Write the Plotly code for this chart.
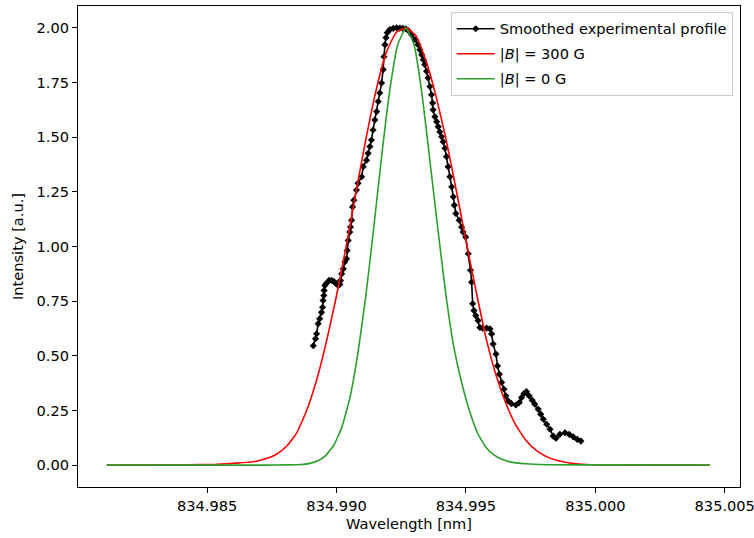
import plotly.graph_objects as go

# ---------------- data ----------------
exp_wl = [
    834.98910, 834.98919, 834.98923, 834.98929, 834.98935, 834.98942, 834.98946, 834.98948,
    834.98951, 834.98952, 834.98955, 834.98961, 834.98971, 834.98981, 834.98990, 834.98997,
    834.99006, 834.99013, 834.99015, 834.99020, 834.99026, 834.99032, 834.99039, 834.99041,
    834.99045, 834.99051, 834.99054, 834.99058, 834.99062, 834.99067, 834.99077, 834.99083,
    834.99097, 834.99103, 834.99116, 834.99122, 834.99129, 834.99135, 834.99141, 834.99148,
    834.99155, 834.99161, 834.99167, 834.99174, 834.99180, 834.99183, 834.99187, 834.99191,
    834.99196, 834.99206, 834.99219, 834.99232, 834.99245, 834.99257, 834.99268, 834.99277,
    834.99290, 834.99303, 834.99315, 834.99322, 834.99329, 834.99335, 834.99341, 834.99348,
    834.99354, 834.99361, 834.99367, 834.99371, 834.99373, 834.99380, 834.99387, 834.99393,
    834.99399, 834.99406, 834.99412, 834.99419, 834.99425, 834.99431, 834.99438, 834.99445,
    834.99451, 834.99455, 834.99461, 834.99474, 834.99483, 834.99489, 834.99499, 834.99509,
    834.99518, 834.99522, 834.99526, 834.99531, 834.99538, 834.99547, 834.99554, 834.99564,
    834.99580, 834.99593, 834.99599, 834.99605, 834.99616, 834.99622, 834.99629, 834.99638,
    834.99647, 834.99654, 834.99663, 834.99676, 834.99693, 834.99706, 834.99715, 834.99724,
    834.99734, 834.99744, 834.99756, 834.99766, 834.99779, 834.99789, 834.99799, 834.99812,
    834.99825, 834.99837, 834.99848, 834.99863, 834.99883, 834.99899, 834.99915, 834.99930,
    834.99944,
]
exp_int = [
    0.546, 0.578, 0.601, 0.647, 0.670, 0.699, 0.722, 0.753,
    0.776, 0.799, 0.822, 0.832, 0.845, 0.845, 0.840, 0.832,
    0.822, 0.826, 0.845, 0.875, 0.898, 0.929, 0.944, 0.982,
    1.028, 1.066, 1.089, 1.120, 1.181, 1.212, 1.258, 1.289,
    1.319, 1.365, 1.395, 1.426, 1.457, 1.487, 1.533, 1.579,
    1.617, 1.663, 1.702, 1.748, 1.809, 1.868, 1.923, 1.955,
    1.978, 1.992, 1.998, 2.000, 1.999, 1.998, 1.995, 1.988,
    1.969, 1.946, 1.923, 1.900, 1.877, 1.854, 1.832, 1.801,
    1.771, 1.732, 1.694, 1.656, 1.625, 1.594, 1.571, 1.548,
    1.525, 1.502, 1.479, 1.449, 1.411, 1.365, 1.319, 1.273,
    1.227, 1.189, 1.151, 1.120, 1.089, 1.066, 1.043, 0.967,
    0.891, 0.837, 0.738, 0.707, 0.684, 0.661, 0.630, 0.626,
    0.627, 0.623, 0.600, 0.554, 0.508, 0.454, 0.416, 0.378,
    0.347, 0.317, 0.294, 0.281, 0.275, 0.286, 0.309, 0.327,
    0.336, 0.317, 0.297, 0.279, 0.256, 0.233, 0.210, 0.187,
    0.164, 0.133, 0.123, 0.141, 0.148, 0.141, 0.129, 0.118,
    0.110,
]

b300_wl = [
    834.98112, 834.98420, 834.98536, 834.98613, 834.98690, 834.98729, 834.98768, 834.98806,
    834.98845, 834.98883, 834.98922, 834.98961, 834.98999, 834.99038, 834.99077, 834.99115,
    834.99154, 834.99193, 834.99231, 834.99270, 834.99309, 834.99347, 834.99386, 834.99425,
    834.99463, 834.99502, 834.99541, 834.99579, 834.99618, 834.99657, 834.99695, 834.99734,
    834.99773, 834.99811, 834.99850, 834.99908, 834.99966, 835.00043, 835.00443,
]
b300_int = [
    0.000, 0.002, 0.004, 0.009, 0.018, 0.030, 0.050, 0.085,
    0.145, 0.245, 0.385, 0.565, 0.770, 1.005, 1.260, 1.500,
    1.720, 1.890, 1.980, 2.000, 1.960, 1.845, 1.680, 1.480,
    1.255, 1.015, 0.785, 0.575, 0.405, 0.275, 0.178, 0.110,
    0.066, 0.039, 0.022, 0.009, 0.003, 0.001, 0.000,
]

b0_wl = [
    834.98112, 834.98727, 834.98804, 834.98866, 834.98897, 834.98928, 834.98959, 834.98990,
    834.99021, 834.99052, 834.99082, 834.99113, 834.99144, 834.99175, 834.99206, 834.99237,
    834.99268, 834.99299, 834.99330, 834.99361, 834.99392, 834.99423, 834.99454, 834.99485,
    834.99516, 834.99547, 834.99577, 834.99608, 834.99639, 834.99670, 834.99732, 834.99809,
    835.00041, 835.00443,
]
b0_int = [
    0.000, 0.000, 0.001, 0.003, 0.008, 0.020, 0.045, 0.092,
    0.175, 0.310, 0.508, 0.772, 1.088, 1.420, 1.718, 1.925,
    2.000, 1.925, 1.700, 1.390, 1.075, 0.775, 0.535, 0.370,
    0.240, 0.142, 0.082, 0.047, 0.027, 0.015, 0.006, 0.002,
    0.001, 0.000,
]

x_ticks = [834.985, 834.990, 834.995, 835.000, 835.005]
y_ticks = [0.0, 0.25, 0.5, 0.75, 1.0, 1.25, 1.5, 1.75, 2.0]

FONT = "DejaVu Sans"
FS = 14.6

fig = go.Figure()
fig.add_trace(go.Scatter(
    x=exp_wl, y=exp_int, mode="lines+markers",
    name="Smoothed experimental profile", legendgroup="a",
    line=dict(color="#000000", width=1.6),
    marker=dict(symbol="diamond", size=5.5, color="#000000"),
))
fig.add_trace(go.Scatter(
    x=b300_wl, y=b300_int, mode="lines",
    name="|<i>B</i>| = 300 G", legendgroup="b",
    line=dict(color="#ff0000", width=1.6, shape="spline", smoothing=0.4),
))
fig.add_trace(go.Scatter(
    x=b0_wl, y=b0_int, mode="lines",
    name="|<i>B</i>| = 0 G", legendgroup="c",
    line=dict(color="#2ca02c", width=1.6, shape="spline", smoothing=0.4),
))

axis_common = dict(
    showline=True, linecolor="#000000", linewidth=1, mirror=True,
    ticks="outside", ticklen=5, tickwidth=1, tickcolor="#000000",
    showgrid=False, zeroline=False, automargin=False,
    tickfont=dict(family=FONT, size=FS, color="#000000"),
)

fig.update_xaxes(
    range=[834.98001, 835.00559], tickvals=x_ticks,
    ticktext=[f"{v:.3f}" for v in x_ticks],
    ticklabeloverflow="allow",
    title=dict(text="Wavelength [nm]", font=dict(family=FONT, size=FS, color="#000000"), standoff=6),
    **axis_common,
)
fig.update_yaxes(
    range=[-0.1, 2.1], tickvals=y_ticks,
    ticktext=[f"{v:.2f}" for v in y_ticks],
    title=dict(text="Intensity [a.u.]", font=dict(family=FONT, size=FS, color="#000000"), standoff=9),
    **axis_common,
)

fig.update_layout(
    width=754, height=538,
    margin=dict(l=78, r=14, t=6, b=51, autoexpand=False),
    plot_bgcolor="#ffffff", paper_bgcolor="#ffffff",
    font=dict(family=FONT, size=FS, color="#000000"),
    showlegend=True,
    legend=dict(
        x=0.989, y=0.988, xanchor="right", yanchor="top",
        bgcolor="rgba(255,255,255,0.8)", bordercolor="#cccccc", borderwidth=1,
        font=dict(family=FONT, size=FS, color="#000000"),
        tracegroupgap=3, itemwidth=38,
    ),
)

fig.write_html("out.html")
